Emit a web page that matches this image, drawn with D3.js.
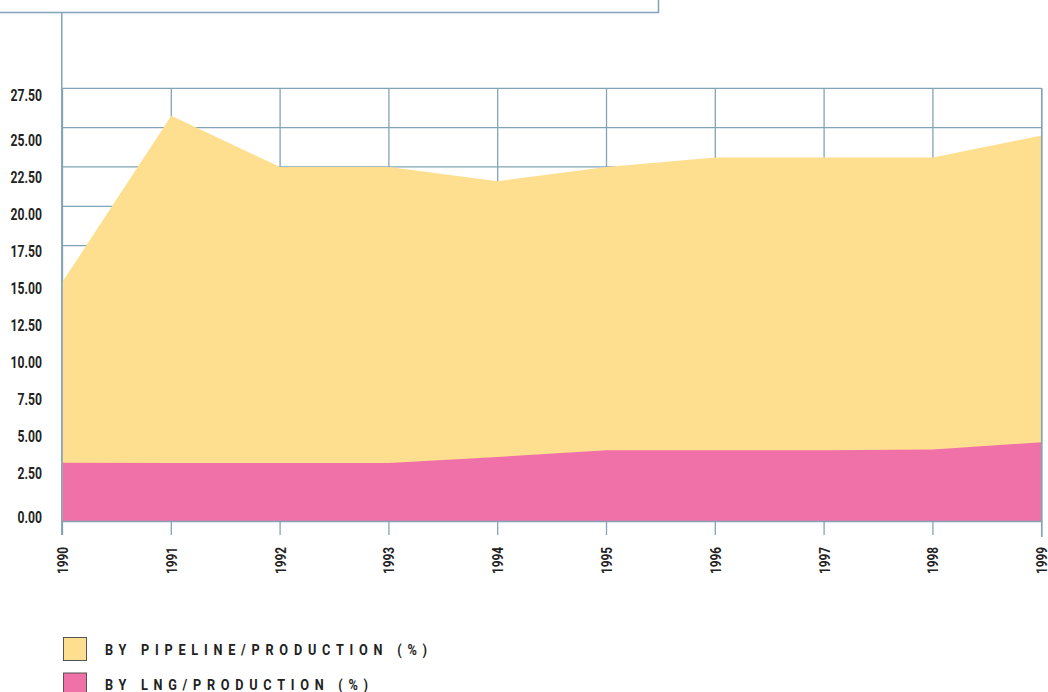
<!DOCTYPE html>
<html>
<head>
<meta charset="utf-8">
<script src="https://cdn.jsdelivr.net/npm/d3@7"></script>
<style>
  html, body { margin: 0; padding: 0; background: #ffffff; }
  svg { display: block; }
  .lbl { font-family: "Roboto", "Liberation Sans", sans-serif; font-weight: bold; fill: #222222; }
</style>
</head>
<body>
<script>
// Gas trade shares, 1990-1999
const years = [1990, 1991, 1992, 1993, 1994, 1995, 1996, 1997, 1998, 1999];
const pipelineShare = [15.2, 25.75, 22.5, 22.5, 21.6, 22.5, 23.1, 23.1, 23.1, 24.5];
const lngShare = [3.7, 3.68, 3.68, 3.68, 4.07, 4.5, 4.5, 4.5, 4.55, 5.0];
const yTickValues = [0, 2.5, 5, 7.5, 10, 12.5, 15, 17.5, 20, 22.5, 25, 27.5];
const legendLabels = ["BY PIPELINE/PRODUCTION (%)", "BY LNG/PRODUCTION (%)"];

const W = 1048, H = 692;
const gridColor = "#83a4b7";
const pipeColor = "#fddf8f";
const lngColor = "#f071a7";
const narrow = 0.76; // horizontal squeeze for the condensed lettering

const svg = d3.select("body").append("svg").attr("width", W).attr("height", H);

const x = d3.scaleLinear().domain([1990, 1999]).range([62.5, 1041.7]);
const y = d3.scaleLinear().domain([0, 27.5]).range([521, 88.3]);
// label column uses its own spacing: wider gaps at both ends
const yLabel = d3.scaleLinear().domain([0, 2.5, 25, 27.5]).range([517.3, 473.3, 140, 95]);

// grid (behind the areas)
const grid = svg.append("g").attr("stroke", gridColor).attr("stroke-width", 1.3);
grid.selectAll("line.h").data(yTickValues).join("line")
  .attr("class", "h")
  .attr("x1", x(1990)).attr("x2", x(1999))
  .attr("y1", d => y(d)).attr("y2", d => y(d));
grid.selectAll("line.v").data(years).join("line")
  .attr("class", "v")
  .attr("x1", d => x(d)).attr("x2", d => x(d))
  .attr("y1", y(27.5)).attr("y2", (d, i) => i === years.length - 1 ? 537 : 535);

// areas
const rows = years.map((yr, i) => ({ yr, pipe: pipelineShare[i], lng: lngShare[i] }));
const areaPipe = d3.area().x(d => x(d.yr)).y0(y(0)).y1(d => y(d.pipe));
const areaLng = d3.area().x(d => x(d.yr)).y0(y(0)).y1(d => y(d.lng));
svg.append("path").datum(rows).attr("d", areaPipe).attr("fill", pipeColor);
svg.append("path").datum(rows).attr("d", areaLng).attr("fill", lngColor);

// frame lines on top
const frame = svg.append("g").attr("stroke", gridColor).attr("stroke-width", 1.5).attr("fill", "none");
frame.append("path").attr("d", `M0,12.5H658.5V0`);
frame.append("line").attr("x1", 61.8).attr("x2", 61.8).attr("y1", 12.5).attr("y2", 535);
frame.append("line").attr("x1", x(1990)).attr("x2", x(1999)).attr("y1", 521.5).attr("y2", 521.5);
frame.append("line").attr("x1", x(1999)).attr("x2", x(1999)).attr("y1", y(27.5)).attr("y2", 537);

// y labels
svg.append("g").selectAll("text").data(yTickValues).join("text")
  .attr("class", "lbl")
  .attr("transform", d => `translate(42,${yLabel(d)}) scale(${narrow},1)`)
  .attr("dy", "0.36em")
  .attr("text-anchor", "end")
  .style("font-size", "16px")
  .text(d => d3.format(".2f")(d));

// x labels, rotated
svg.append("g").selectAll("text").data(years).join("text")
  .attr("class", "lbl")
  .attr("transform", d => `translate(${x(d)},547) rotate(-90) scale(${narrow},1)`)
  .attr("dy", "0.36em")
  .attr("text-anchor", "end")
  .style("font-size", "15.5px")
  .text(d => d);

// legend
const legend = svg.append("g");
const legendColors = [pipeColor, lngColor];
const legendWidths = [322, 263];
legendLabels.forEach((t, i) => {
  const g = legend.append("g").attr("transform", `translate(63.5,${637.5 + i * 35.5})`);
  g.append("rect").attr("width", 23).attr("height", 23)
    .attr("fill", legendColors[i]).attr("stroke", "#555555").attr("stroke-width", 1);
  g.append("text").attr("class", "lbl")
    .attr("transform", `translate(41.5,11.5) scale(0.82,1)`)
    .attr("dy", "0.36em")
    .attr("textLength", legendWidths[i] / 0.82)
    .attr("lengthAdjust", "spacing")
    .style("font-size", "15.5px")
    .text(t);
});
</script>
</body>
</html>
